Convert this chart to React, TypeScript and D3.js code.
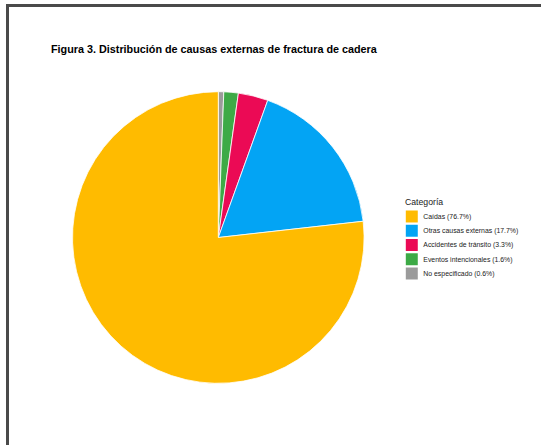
import React from "react";
import * as d3 from "d3";

const categories = [
  "Caídas",
  "Otras causas externas",
  "Accidentes de tránsito",
  "Eventos intencionales",
  "No especificado",
];
const values = [76.7, 17.7, 3.3, 1.6, 0.6];
const colors = ["#FFBB00", "#03A4F4", "#EB0A55", "#3DAA46", "#9B9B9B"];
const title = "Figura 3. Distribución de causas externas de fractura de cadera";
const legendTitle = "Categoría";

const W = 541;
const H = 445;

export default function App() {
  const cx = 218.3;
  const cy = 237.5;
  const r = 145.8;

  const data = categories.map((c, i) => ({ c, v: values[i], col: colors[i] }));
  const pieOrder = [...data].reverse();
  const arcs = d3
    .pie<any>()
    .sort(null)
    .value((d: any) => d.v)
    .startAngle(0)
    .endAngle(2 * Math.PI)(pieOrder);
  const arcGen = d3.arc<any>().innerRadius(0).outerRadius(r);

  const legY = d3
    .scaleBand()
    .domain(categories)
    .range([210.5, 210.5 + 13.8 * categories.length])
    .paddingInner(0.16)
    .paddingOuter(0);

  return (
    <div style={{ position: "fixed", left: 0, top: 0, width: W, height: H, background: "#fff" }}>
      <svg width={W} height={H} style={{ display: "block" }}>
        <rect x={0} y={0} width={W} height={H} fill="#fff" />
        <rect
          x={7.5}
          y={5.5}
          width={W + 20}
          height={H + 20}
          fill="none"
          stroke="#4a4a4a"
          strokeWidth={3}
        />
        <text
          x={51}
          y={52.6}
          fontFamily="Liberation Sans, Arial, sans-serif"
          fontWeight="bold"
          fontSize={10.8}
          fill="#000"
        >
          {title}
        </text>
        <g transform={`translate(${cx},${cy})`}>
          {arcs.map((a, i) => (
            <path
              key={i}
              d={arcGen(a) as string}
              fill={a.data.col}
              stroke="#fff"
              strokeWidth={0.8}
            />
          ))}
        </g>
        <text
          x={405}
          y={205.3}
          fontFamily="Liberation Sans, Arial, sans-serif"
          fontSize={8.7}
          fill="#222"
        >
          {legendTitle}
        </text>
        {data.map((d) => {
          const y = legY(d.c) as number;
          const bw = legY.bandwidth();
          return (
            <g key={d.c}>
              <rect x={405.8} y={y} width={bw} height={bw} fill={d.col} />
              <text
                x={423.3}
                y={y + bw / 2}
                dy="0.35em"
                fontFamily="Liberation Sans, Arial, sans-serif"
                fontSize={6.9}
                fill="#222"
              >
                {`${d.c} (${d.v.toFixed(1)}%)`}
              </text>
            </g>
          );
        })}
      </svg>
    </div>
  );
}
